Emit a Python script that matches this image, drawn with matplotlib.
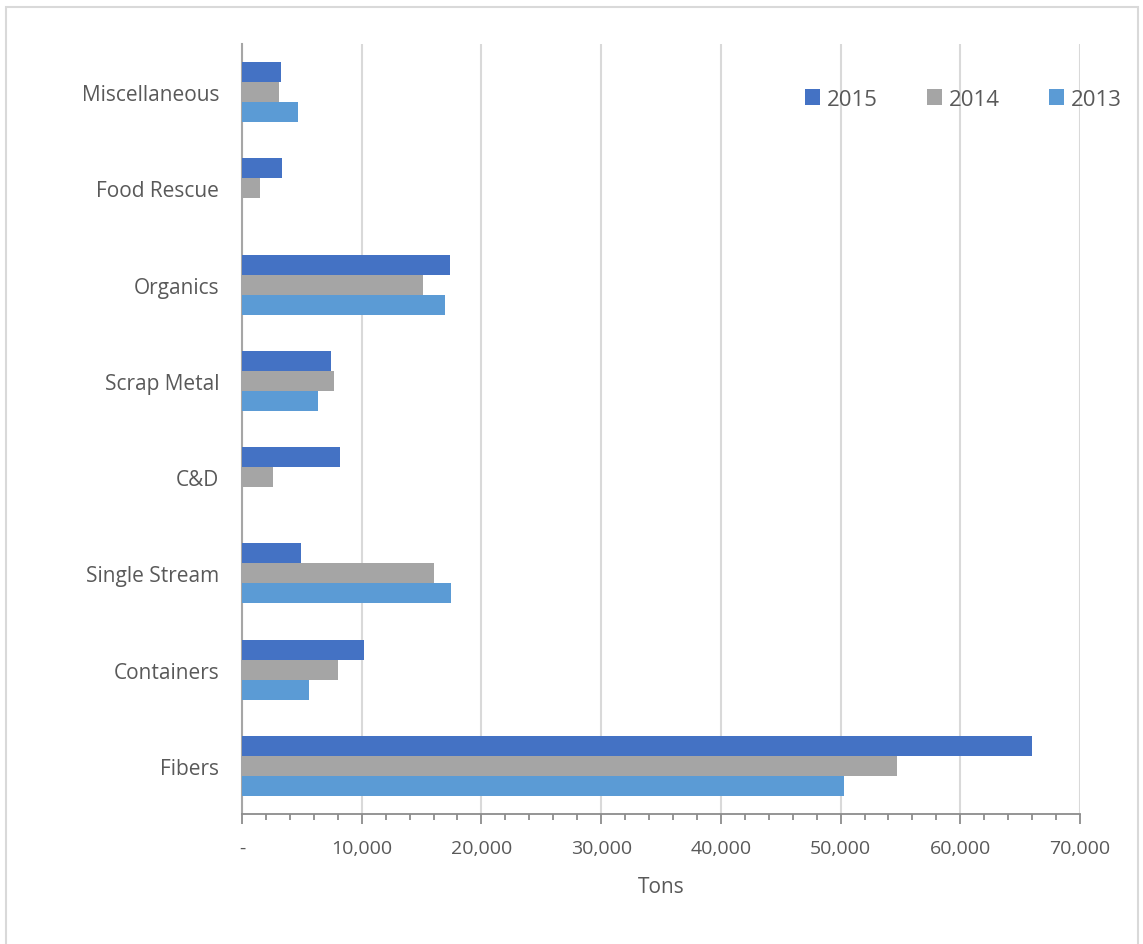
import matplotlib
matplotlib.use('Agg')
import matplotlib.pyplot as plt
import numpy as np
from matplotlib.ticker import FuncFormatter, MultipleLocator

# order follows y from bottom to top
categories = ['Fibers', 'Containers', 'Single Stream', 'C&D', 'Scrap Metal',
              'Organics', 'Food Rescue', 'Miscellaneous']
tons_2015 = [66000, 10200, 4950, 8150, 7400, 17400, 3300, 3250]
tons_2014 = [54700, 8030, 16050, 2600, 7650, 15150, 1500, 3050]
tons_2013 = [50300, 5580, 17450, 0, 6350, 16950, 0, 4650]
years = ['2015', '2014', '2013']
colors = ['#4472C4', '#A5A5A5', '#5B9BD5']

plt.rcParams['font.family'] = ['Open Sans', 'DejaVu Sans']
text_color = '#595959'

fig = plt.figure(figsize=(11.43, 9.45), dpi=100)
ax = fig.add_axes([242/1143, 1 - 815/945, (1080 - 242)/1143, (815 - 45)/945])

# light border round the chart (bottom edge falls outside the picture)
fig.patches.append(plt.Rectangle((6/1143, -0.05), 1132/1143, 1.05 - 8/945, transform=fig.transFigure,
                                 fill=False, edgecolor='#D9D9D9', linewidth=1.5))

y = np.arange(len(categories))
h = 0.208
for i, (vals, lab) in enumerate(zip([tons_2015, tons_2014, tons_2013], years)):
    ax.barh(y + h * (1 - i), vals, height=h, color=colors[i], label=lab, zorder=3)

ax.set_xlim(0, 70000)
ax.set_ylim(-0.5, len(categories) - 0.5)
ax.set_yticks(y)
ax.set_yticklabels(categories, fontsize=15, color=text_color)
ax.tick_params(axis='y', length=0, pad=16.5)

ax.xaxis.set_major_locator(MultipleLocator(10000))
ax.xaxis.set_minor_locator(MultipleLocator(2000))
ax.xaxis.set_major_formatter(FuncFormatter(lambda v, p: '-' if v == 0 else f'{int(v):,}'))
ax.tick_params(axis='x', which='major', length=7, width=1.3, color='#8C8C8C',
               labelsize=14, labelcolor=text_color, pad=11)
ax.tick_params(axis='x', which='minor', length=4, width=1.3, color='#8C8C8C')
ax.grid(axis='x', color='#D9D9D9', linewidth=1.5, zorder=0)

for s in ['top', 'right']:
    ax.spines[s].set_visible(False)
ax.spines['bottom'].set_color('#8C8C8C')
ax.spines['bottom'].set_linewidth(1.3)
ax.spines['left'].set_color('#A6A6A6')
ax.spines['left'].set_linewidth(1.5)

ax.set_xlabel('Tons', fontsize=15, color=text_color, labelpad=14)

fig.legend(*ax.get_legend_handles_labels(), loc='center right',
           bbox_to_anchor=(1133/1143, 1 - 100/945), ncol=3, frameon=False,
           fontsize=16, labelcolor=text_color, handlelength=0.7, handleheight=0.7,
           handletextpad=0.3, columnspacing=2.2, borderpad=0)

fig.savefig('out.png', dpi=100)
